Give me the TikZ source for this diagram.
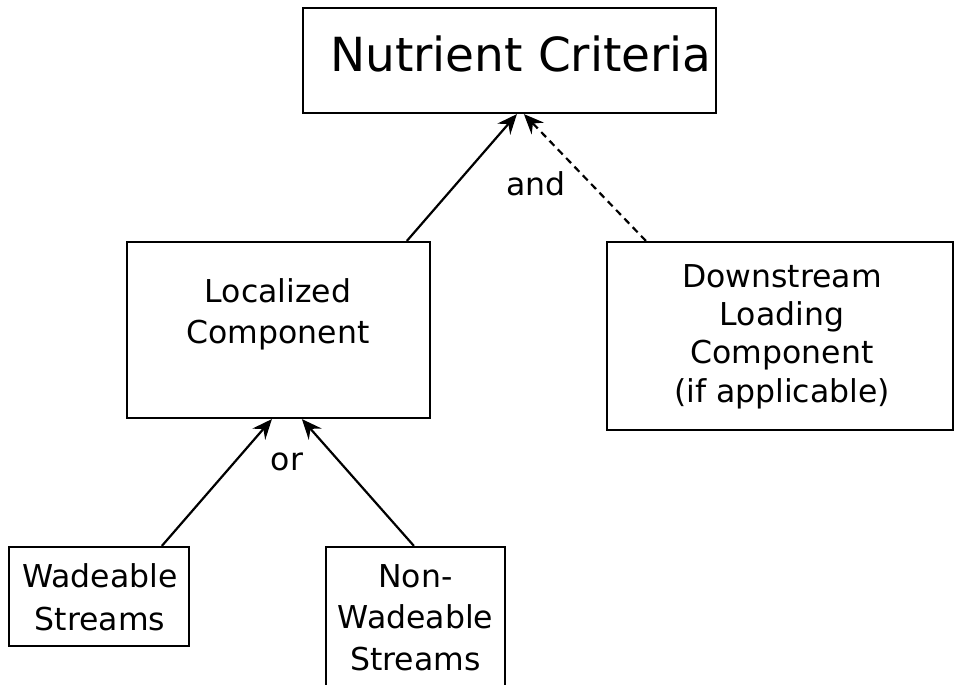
\documentclass[tikz,border=0pt]{standalone}
\usepackage{fontspec}
\setmainfont{DejaVu Sans}
\usetikzlibrary{arrows.meta}
\begin{document}
\begin{tikzpicture}[x=1pt,y=-1pt,
  boxnode/.style={draw=black, line width=2.2pt, rectangle, inner sep=0pt, fill=none},
  txt/.style={inner sep=0pt, align=center, font=\fontsize{31.5}{41}\selectfont, anchor=base},
  conn/.style={line width=2.2pt, arrows={-Stealth[length=20pt,width=17pt,inset=7pt]}}
]
\clip (0,0) rectangle (954,685);
\fill[white] (0,0) rectangle (954,685);
% boxes
\node[boxnode, minimum width=413pt, minimum height=105pt] (nut) at (509.5,60.5) {};
\node[boxnode, minimum width=303pt, minimum height=176pt] (loc) at (278.5,330) {};
\node[boxnode, minimum width=346pt, minimum height=188pt] (down) at (780,336) {};
\node[boxnode, minimum width=180pt, minimum height=99pt] (wad) at (99,596.5) {};
\node[boxnode, minimum width=179pt, minimum height=160pt] (nonwad) at (415.5,627) {};
% texts (anchor = baseline of last line)
\node[txt, font=\fontsize{47}{55}\selectfont] (nut-t) at (521,72) {Nutrient Criteria};
\node[txt] (loc-t) at (278,343) {Localized\\Component};
\node[txt, font=\fontsize{31.5}{38.3}\selectfont] (down-t) at (782,402) {Downstream\\Loading\\Component\\(if applicable)};
\node[txt, font=\fontsize{31.5}{43}\selectfont] (wad-t) at (100,630) {Wadeable\\Streams};
\node[txt, font=\fontsize{31.5}{41.5}\selectfont] (nonwad-t) at (415.5,670) {Non-\\Wadeable\\Streams};
\node[txt] (and) at (536,195) {and};
\node[txt] (or) at (287,470) {or};
% connectors
\draw[conn] ([xshift=281pt]loc.north west) -- ([xshift=215pt]nut.south west);
\draw[conn, dash pattern=on 7pt off 5pt] ([xshift=40pt]down.north west) -- ([xshift=222pt]nut.south west);
\draw[conn] ([xshift=154pt]wad.north west) -- ([xshift=146pt]loc.south west);
\draw[conn] ([xshift=89pt]nonwad.north west) -- ([xshift=176pt]loc.south west);
\end{tikzpicture}
\end{document}
